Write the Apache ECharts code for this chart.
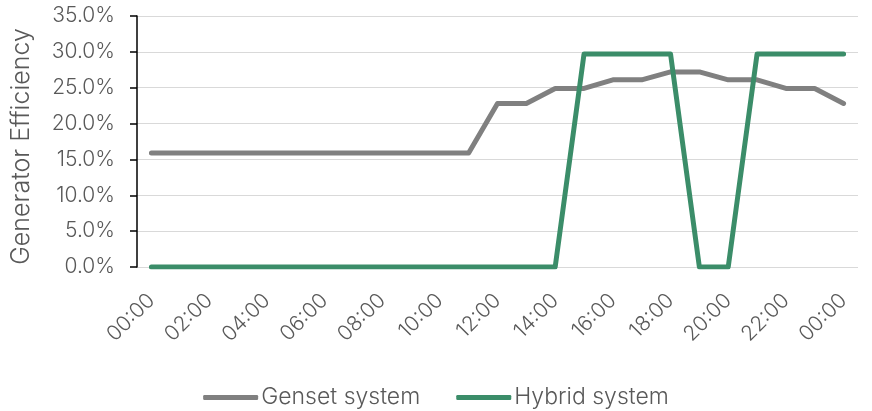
<!DOCTYPE html>
<html><head><meta charset="utf-8">
<script src="https://cdn.jsdelivr.net/npm/echarts@6/dist/echarts.min.js"></script>
<style>html,body{margin:0;padding:0;background:#fff}#c{width:872px;height:411px}</style>
</head><body><div id="c"></div>
<script>
const categories = ["00:00","01:00","02:00","03:00","04:00","05:00","06:00","07:00","08:00","09:00","10:00","11:00","12:00","13:00","14:00","15:00","16:00","17:00","18:00","19:00","20:00","21:00","22:00","23:00","00:00"];
const genset = [15.9,15.9,15.9,15.9,15.9,15.9,15.9,15.9,15.9,15.9,15.9,15.9,22.8,22.8,24.9,24.9,26.1,26.1,27.2,27.2,26.1,26.1,24.9,24.9,22.8];
const hybrid = [0,0,0,0,0,0,0,0,0,0,0,0,0,0,0,29.7,29.7,29.7,29.7,0,0,29.7,29.7,29.7,29.7];
const yTicks = {min:0, max:35, interval:5};
const font = "Inter, 'Noto Sans', sans-serif";
const chart = echarts.init(document.getElementById('c'));
chart.setOption({
  animation:false,
  grid:{left:137,right:14,top:16,bottom:144,containLabel:false,outerBoundsMode:'none'},
  legend:{top:381,left:'center',itemWidth:55,itemHeight:5,itemGap:36,icon:'roundRect',
    textStyle:{color:'#595959',fontSize:23,fontWeight:300,fontFamily:font,padding:[0,0,0,-2]},
    data:['Genset system','Hybrid system']},
  xAxis:{type:'category',data:categories,boundaryGap:true,
    axisLine:{show:false},axisTick:{show:false},
    axisLabel:{interval:1,rotate:45,color:'#595959',fontSize:21,fontWeight:300,fontFamily:font,margin:30}},
  yAxis:{type:'value',min:yTicks.min,max:yTicks.max,interval:yTicks.interval,
    name:'Generator Efficiency',nameLocation:'middle',nameGap:103,
    nameTextStyle:{color:'#595959',fontSize:25,fontWeight:300,fontFamily:font,padding:[0,0,0,-10]},
    axisLine:{show:true,lineStyle:{color:'#000',width:1.5}},
    axisTick:{show:true,length:7,inside:false,lineStyle:{color:'#000',width:1.5}},
    splitLine:{lineStyle:{color:'#d9d9d9',width:1.2}},
    axisLabel:{formatter:v=>v.toFixed(1)+'%',color:'#595959',fontSize:21,fontWeight:300,fontFamily:font,margin:22}},
  series:[
    {name:'Genset system',type:'line',data:genset,symbol:'none',color:'#808080',lineStyle:{width:5,color:'#808080',cap:'round',join:'round'}},
    {name:'Hybrid system',type:'line',data:hybrid,symbol:'none',color:'#3b8d69',lineStyle:{width:5,color:'#3b8d69',cap:'round',join:'round'}}
  ]
});
</script></body></html>
